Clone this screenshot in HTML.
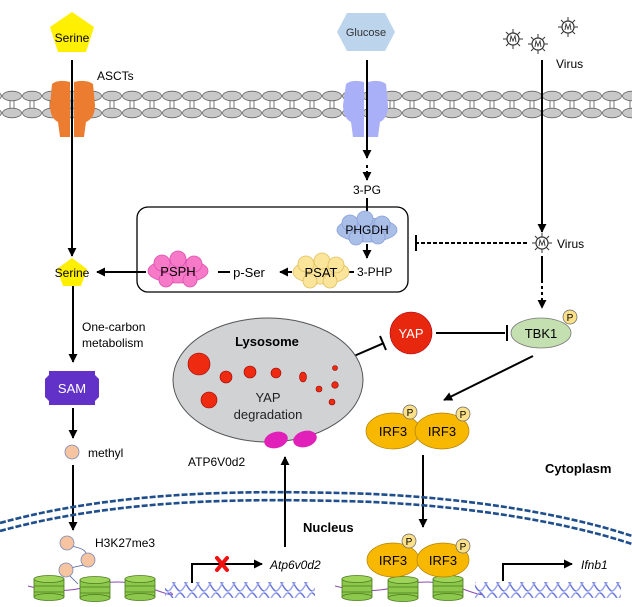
<!DOCTYPE html>
<html><head><meta charset="utf-8"><style>
body{margin:0;background:#fff;}
svg{display:block;font-family:"Liberation Sans",Arial,sans-serif;}
</style></head><body>
<svg width="632" height="607" viewBox="0 0 632 607" xmlns="http://www.w3.org/2000/svg">
<defs>
<marker id="ah" viewBox="0 0 10 10" refX="9" refY="5" markerUnits="userSpaceOnUse" markerWidth="9" markerHeight="9" orient="auto-start-reverse"><path d="M0,0 L10,5 L0,10 z" fill="#000"/></marker>
<pattern id="mem" x="2" y="0" width="20" height="140" patternUnits="userSpaceOnUse">
<line x1="8" y1="100" x2="8" y2="110" stroke="#777" stroke-width="1"/>
<line x1="12" y1="100" x2="12" y2="110" stroke="#777" stroke-width="1"/>
<ellipse cx="10" cy="96" rx="9.5" ry="4.8" fill="#c8c8c8" stroke="#666" stroke-width="0.8"/>
<ellipse cx="10" cy="113" rx="9.5" ry="4.8" fill="#c8c8c8" stroke="#666" stroke-width="0.8"/>
</pattern>
<g id="vir"><circle r="6" fill="#fff" stroke="#333" stroke-width="1.2"/><path d="M-3,3 L-2,-3 L0,2 L2,-3 L3,3" fill="none" stroke="#333" stroke-width="0.9"/><g stroke="#333" stroke-width="1"><line x1="0" y1="-6" x2="0" y2="-10"/><line x1="0" y1="6" x2="0" y2="10"/><line x1="-6" y1="0" x2="-10" y2="0"/><line x1="6" y1="0" x2="10" y2="0"/><line x1="4.2" y1="4.2" x2="7" y2="7"/><line x1="-4.2" y1="4.2" x2="-7" y2="7"/><line x1="4.2" y1="-4.2" x2="7" y2="-7"/><line x1="-4.2" y1="-4.2" x2="-7" y2="-7"/></g></g>
<g id="nuc"><rect x="-15" y="-9" width="30" height="18" fill="#8cc84b" stroke="#4a7a1e" stroke-width="0.8"/><ellipse cx="0" cy="-9" rx="15" ry="3.5" fill="#9ed45a" stroke="#4a7a1e" stroke-width="0.8"/><ellipse cx="0" cy="9" rx="15" ry="3.5" fill="#8cc84b" stroke="#4a7a1e" stroke-width="0.8"/><line x1="-15" y1="-2" x2="15" y2="-2" stroke="#4a7a1e" stroke-width="0.7"/><line x1="-15" y1="4" x2="15" y2="4" stroke="#4a7a1e" stroke-width="0.7"/></g>
<pattern id="dna" x="0" y="0" width="12" height="16" patternUnits="userSpaceOnUse"><path d="M0,1 C4,1 8,15 12,15" fill="none" stroke="#6a78e0" stroke-width="1.4"/><path d="M0,15 C4,15 8,1 12,1" fill="none" stroke="#9aa6f0" stroke-width="1.4"/></pattern>
</defs>

<rect x="0" y="85" width="632" height="40" fill="url(#mem)"/>
<path d="M52,84 Q58,79 70,82 L70,137 L60,137 L58,122 Q50,118 50,105 Z M74,82 Q86,79 93,84 L95,105 Q95,118 86,122 L84,137 L74,137 Z" fill="#ec7c30"/>
<path d="M346,84 Q352,79 364,82 L364,137 L353,137 L351,122 Q343,118 343,105 Z M368,82 Q380,79 386,84 L388,105 Q388,118 380,122 L378,137 L368,137 Z" fill="#aab0f8"/>

<polygon points="72,12 94,27 86,52 58,52 50,27" fill="#ffef00"/>
<text x="72" y="42" font-size="12" text-anchor="middle">Serine</text>
<polygon points="347,13 385,13 395,32 385,51 347,51 337,32" fill="#bcd4ec"/>
<text x="366" y="36" font-size="11" text-anchor="middle" fill="#333">Glucose</text>
<use href="#vir" x="513" y="39"/><use href="#vir" x="538" y="44"/><use href="#vir" x="568" y="27"/>
<text x="556" y="68" font-size="12">Virus</text>
<text x="97" y="80" font-size="12">ASCTs</text>

<g stroke="#000" stroke-width="2" fill="none">
<line x1="72" y1="60" x2="72" y2="256" marker-end="url(#ah)"/>
<line x1="367" y1="60" x2="367" y2="158" marker-end="url(#ah)"/>
<line x1="367" y1="165" x2="367" y2="180" stroke-dasharray="3,3" marker-end="url(#ah)"/>
<line x1="367" y1="198" x2="367" y2="215"/>
<line x1="367" y1="244" x2="367" y2="258" marker-end="url(#ah)"/>
<line x1="542" y1="60" x2="542" y2="232" marker-end="url(#ah)"/>
<line x1="542" y1="256" x2="542" y2="280"/>
<line x1="542" y1="280" x2="542" y2="308" stroke-dasharray="3,3" marker-end="url(#ah)"/>
<line x1="527" y1="243" x2="417" y2="243" stroke-dasharray="4,2"/>
<line x1="416" y1="235" x2="416" y2="251"/>
<line x1="341" y1="272" x2="354" y2="272"/>
<line x1="292" y1="272" x2="280" y2="272" marker-end="url(#ah)"/>
<line x1="230" y1="272" x2="218" y2="272"/>
<line x1="146" y1="272" x2="97" y2="272" marker-end="url(#ah)"/>
<line x1="73" y1="282" x2="73" y2="362" marker-end="url(#ah)"/>
<line x1="73" y1="408" x2="73" y2="438" marker-end="url(#ah)"/>
<line x1="73" y1="465" x2="73" y2="530" marker-end="url(#ah)"/>
<line x1="354" y1="356" x2="384" y2="343"/>
<line x1="380" y1="336" x2="386" y2="350"/>
<line x1="436" y1="333" x2="505" y2="333"/>
<line x1="507" y1="325" x2="507" y2="341"/>
<line x1="533" y1="356" x2="444" y2="400" marker-end="url(#ah)"/>
<line x1="423" y1="455" x2="423" y2="527" marker-end="url(#ah)"/>
<line x1="285" y1="547" x2="285" y2="457" marker-end="url(#ah)"/>
<polyline points="192,583 192,564 262,564" marker-end="url(#ah)"/>
<polyline points="503,581 503,564 572,564" marker-end="url(#ah)"/>
</g>

<text x="367" y="194" font-size="12" text-anchor="middle">3-PG</text>
<rect x="137" y="207" width="271" height="85" rx="11" fill="none" stroke="#000" stroke-width="1.3"/>
<g fill="#a9bfe8" stroke="#8aa0d8" stroke-width="0.8"><ellipse cx="367" cy="230" rx="30" ry="12"/><circle cx="350" cy="223" r="8"/><circle cx="365" cy="219" r="8"/><circle cx="382" cy="224" r="8"/><circle cx="356" cy="238" r="7"/><circle cx="378" cy="237" r="7"/></g>
<text x="367" y="234" font-size="12" text-anchor="middle">PHGDH</text>
<text x="357" y="276" font-size="12">3-PHP</text>
<g fill="#fbe59a" stroke="#e0c060" stroke-width="0.8"><ellipse cx="321" cy="272" rx="28" ry="12"/><circle cx="306" cy="264" r="8"/><circle cx="322" cy="261" r="8"/><circle cx="336" cy="265" r="8"/><circle cx="310" cy="281" r="7"/><circle cx="330" cy="281" r="7"/></g>
<text x="321" y="277" font-size="13" text-anchor="middle">PSAT</text>
<text x="249" y="277" font-size="13" text-anchor="middle">p-Ser</text>
<g fill="#f67ac8" stroke="#e050b0" stroke-width="0.8"><ellipse cx="178" cy="271" rx="30" ry="12"/><circle cx="162" cy="263" r="8"/><circle cx="178" cy="259" r="8"/><circle cx="194" cy="264" r="8"/><circle cx="166" cy="280" r="7"/><circle cx="190" cy="280" r="7"/></g>
<text x="178" y="276" font-size="13" text-anchor="middle">PSPH</text>

<use href="#vir" x="542" y="243"/>
<text x="557" y="248" font-size="12">Virus</text>

<polygon points="72,258 87,269 81,286 63,286 57,269" fill="#ffef00"/>
<text x="72" y="277" font-size="12" text-anchor="middle">Serine</text>
<text x="82" y="331" font-size="12">One-carbon</text>
<text x="82" y="347" font-size="12">metabolism</text>
<polygon points="49,371 95,371 95,375 99,379 99,397 95,401 95,405 49,405 49,401 45,397 45,379 49,375" fill="#6232c8"/>
<text x="72" y="393" font-size="13" text-anchor="middle" fill="#fff">SAM</text>
<circle cx="72" cy="452" r="7" fill="#f6c4a0" stroke="#7a8ab8" stroke-width="0.8"/>
<text x="88" y="457" font-size="12">methyl</text>

<ellipse cx="268" cy="380" rx="95" ry="62" fill="#d0d2d4" stroke="#555" stroke-width="1"/>
<text x="267" y="346" font-size="13" font-weight="bold" text-anchor="middle">Lysosome</text>
<g fill="#ee2a10" stroke="#900" stroke-width="0.6">
<circle cx="199" cy="364" r="11"/><circle cx="226" cy="377" r="6"/><circle cx="250" cy="372" r="6"/><circle cx="276" cy="373" r="5"/><ellipse cx="303" cy="377" rx="3.5" ry="5"/><circle cx="335" cy="368" r="2.5"/><circle cx="335" cy="385" r="3.3"/><circle cx="319" cy="389" r="3"/><circle cx="332" cy="402" r="3"/><circle cx="209" cy="400" r="8"/></g>
<text x="268" y="402" font-size="13" text-anchor="middle" fill="#222">YAP</text>
<text x="268" y="419" font-size="13" text-anchor="middle" fill="#222">degradation</text>
<ellipse cx="276" cy="440" rx="12" ry="8" fill="#e020b8" transform="rotate(-15 276 440)"/>
<ellipse cx="305" cy="439" rx="12" ry="8" fill="#e020b8" transform="rotate(-15 305 439)"/>
<text x="188" y="466" font-size="12">ATP6V0d2</text>

<circle cx="411" cy="333" r="21" fill="#e8280e" stroke="#a01" stroke-width="0.6"/>
<text x="411" y="338" font-size="13" text-anchor="middle" fill="#fff">YAP</text>
<ellipse cx="541" cy="333" rx="30" ry="15" fill="#c4dfb0" stroke="#777" stroke-width="0.8"/>
<text x="541" y="338" font-size="13" text-anchor="middle">TBK1</text>
<circle cx="570" cy="317" r="7" fill="#fbe08a" stroke="#666" stroke-width="0.7"/><text x="570" y="321" font-size="10" text-anchor="middle">P</text>

<g font-size="13" text-anchor="middle">
<ellipse cx="393" cy="431" rx="27" ry="18" fill="#f8b800" stroke="#b08000" stroke-width="0.7"/>
<ellipse cx="442" cy="431" rx="27" ry="18" fill="#f8b800" stroke="#b08000" stroke-width="0.7"/>
<text x="393" y="436">IRF3</text><text x="442" y="436">IRF3</text>
<circle cx="410" cy="412" r="7" fill="#fbe08a" stroke="#666" stroke-width="0.7"/><text x="410" y="416" font-size="10">P</text>
<circle cx="463" cy="414" r="7" fill="#fbe08a" stroke="#666" stroke-width="0.7"/><text x="463" y="418" font-size="10">P</text>
</g>
<text x="545" y="473" font-size="13" font-weight="bold">Cytoplasm</text>

<path d="M0,523 C120,490 250,491 340,493 C450,495 560,512 632,536" fill="none" stroke="#1f4e8c" stroke-width="2.6" stroke-dasharray="6,2"/>
<path d="M0,531 C120,498 250,499 340,501 C450,503 560,520 632,544" fill="none" stroke="#1f4e8c" stroke-width="2.6" stroke-dasharray="6,2"/>
<text x="303" y="532" font-size="13" font-weight="bold">Nucleus</text>

<path d="M28,586 Q60,595 90,586 T150,588 T170,592" fill="none" stroke="#8a4ab0" stroke-width="1"/>
<use href="#nuc" x="49" y="588"/><use href="#nuc" x="95" y="589"/><use href="#nuc" x="140" y="588"/>
<rect x="165" y="582" width="150" height="16" fill="url(#dna)"/>
<path d="M70,546 Q84,548 86,553 M84,565 L70,568 M70,576 L78,584" fill="none" stroke="#4a5a9a" stroke-width="0.8"/>
<g fill="#f6c4a0" stroke="#7a8ab8" stroke-width="0.8"><circle cx="67" cy="543" r="7"/><circle cx="88" cy="560" r="7"/><circle cx="66" cy="570" r="7"/></g>
<text x="95" y="547" font-size="12">H3K27me3</text>
<g stroke="#f01010" stroke-width="4" stroke-linecap="round"><line x1="217" y1="558" x2="227" y2="570"/><line x1="227" y1="558" x2="217" y2="570"/></g>
<text x="270" y="569" font-size="12" font-style="italic">Atp6v0d2</text>

<path d="M335,586 Q370,595 400,586 T460,588 T480,592" fill="none" stroke="#8a4ab0" stroke-width="1"/>
<use href="#nuc" x="357" y="588"/><use href="#nuc" x="403" y="589"/><use href="#nuc" x="448" y="588"/>
<rect x="475" y="582" width="146" height="16" fill="url(#dna)"/>
<g font-size="13" text-anchor="middle">
<ellipse cx="393" cy="560" rx="26" ry="17" fill="#f8b800" stroke="#b08000" stroke-width="0.7"/>
<ellipse cx="443" cy="560" rx="26" ry="17" fill="#f8b800" stroke="#b08000" stroke-width="0.7"/>
<text x="393" y="565">IRF3</text><text x="443" y="565">IRF3</text>
<circle cx="409" cy="541" r="7" fill="#fbe08a" stroke="#666" stroke-width="0.7"/><text x="409" y="545" font-size="10">P</text>
<circle cx="463" cy="546" r="7" fill="#fbe08a" stroke="#666" stroke-width="0.7"/><text x="463" y="550" font-size="10">P</text>
</g>
<text x="581" y="569" font-size="12" font-style="italic">Ifnb1</text>
</svg>
</body></html>
